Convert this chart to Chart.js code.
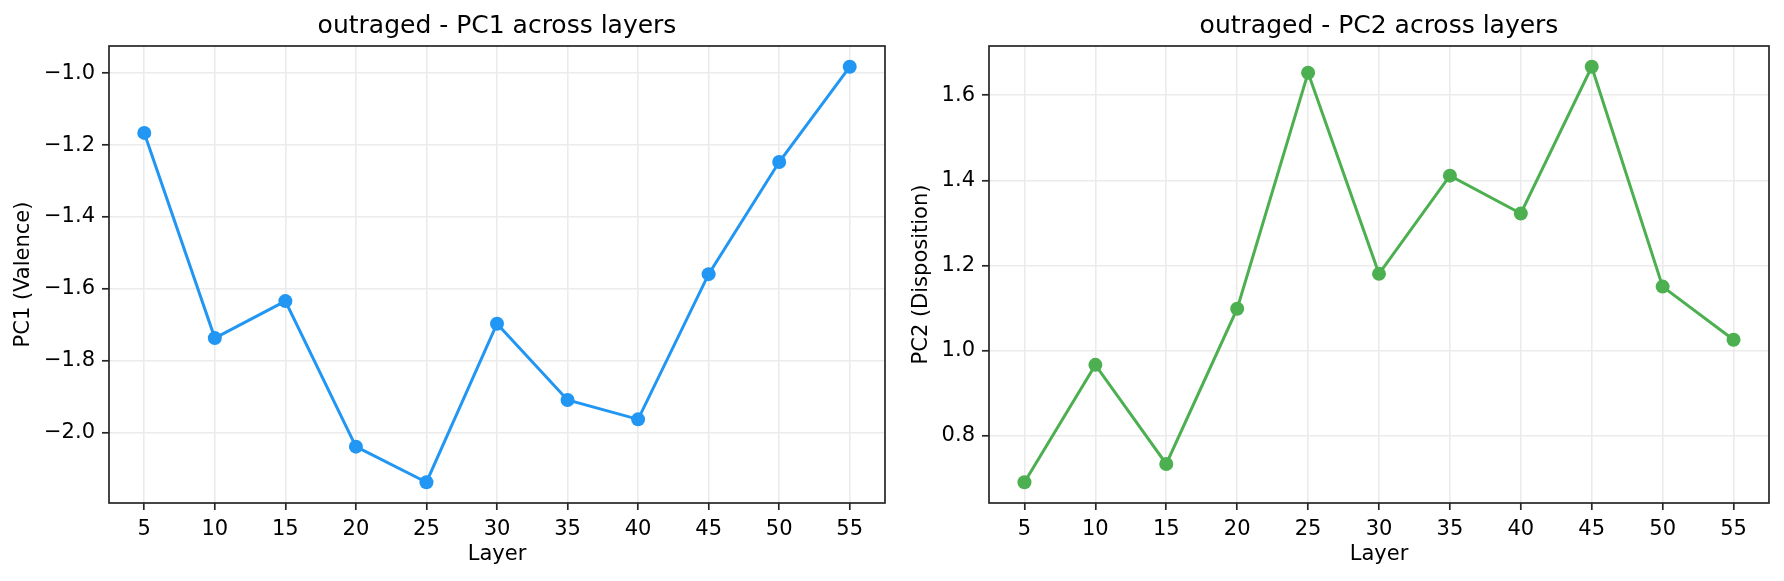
<!DOCTYPE html>
<html>
<head>
<meta charset="utf-8">
<script src="https://cdn.jsdelivr.net/npm/chart.js@4.4.1/dist/chart.umd.min.js"></script>
<style>
  html, body { margin: 0; padding: 0; background: #fff; }
  #wrap { position: relative; width: 1784px; height: 581px; }
  canvas { position: absolute; top: 0; }
</style>
</head>
<body>
<div id="wrap">
  <canvas id="pc1Chart" width="892" height="581" style="left:0"></canvas>
  <canvas id="pc2Chart" width="892" height="581" style="left:892px"></canvas>
</div>
<script>
// Datos
const emotion = 'outraged';
const layers = [5, 10, 15, 20, 25, 30, 35, 40, 45, 50, 55];
const pc1Values = [-1.166, -1.737, -1.634, -2.039, -2.138, -1.697, -1.909, -1.963, -1.559, -1.247, -0.982];
const pc2Values = [0.690, 0.966, 0.733, 1.098, 1.653, 1.180, 1.411, 1.322, 1.667, 1.150, 1.025];
const pc1Ticks = [-2.0, -1.8, -1.6, -1.4, -1.2, -1.0];
const pc2Ticks = [0.8, 1.0, 1.2, 1.4, 1.6];
const layerTicks = [5, 10, 15, 20, 25, 30, 35, 40, 45, 50, 55];

Chart.defaults.font.family = "'DejaVu Sans', sans-serif";
Chart.defaults.color = '#000';

// Márgenes como matplotlib (5% a cada lado)
const paddedRange = vals => {
  const lo = Math.min(...vals), hi = Math.max(...vals), m = (hi - lo) * 0.05;
  return [lo - m, hi + m];
};

const formatTick = v => v.toFixed(1).replace('-', '\u2212');

// Marco completo alrededor del área del gráfico
const spinePlugin = {
  id: 'spines',
  afterDatasetsDraw(chart) {
    const { ctx, chartArea: a } = chart;
    ctx.save();
    ctx.strokeStyle = '#262626';
    ctx.lineWidth = 1.7;
    ctx.strokeRect(a.left, a.top, a.right - a.left, a.bottom - a.top);
    ctx.restore();
  }
};

function buildChart(canvasId, values, yTicks, color, titleText, yLabel, opts) {
  const [yMin, yMax] = paddedRange(values);
  const [xMin, xMax] = paddedRange(layers);
  const ctx = document.getElementById(canvasId).getContext('2d');
  return new Chart(ctx, {
    type: 'line',
    data: {
      datasets: [{
        data: layers.map((l, i) => ({ x: l, y: values[i] })),
        borderColor: color,
        backgroundColor: color,
        borderWidth: 3,
        tension: 0,
        pointRadius: 7,
        pointHoverRadius: 7,
        pointBorderWidth: 0,
        pointBackgroundColor: color
      }]
    },
    options: {
      responsive: false,
      devicePixelRatio: 1,
      animation: false,
      layout: { padding: { left: 0, right: opts.padRight, top: 0, bottom: 0 } },
      plugins: {
        legend: { display: false },
        tooltip: { enabled: false },
        title: {
          display: true,
          text: titleText,
          fullSize: false,
          color: '#000',
          font: { size: 25, weight: 'normal', lineHeight: 1.2 },
          padding: { top: 11, bottom: 5 }
        }
      },
      scales: {
        x: {
          type: 'linear',
          min: xMin,
          max: xMax,
          afterBuildTicks: s => { s.ticks = layerTicks.map(v => ({ value: v })); },
          afterFit: s => { s.height = 78; },
          ticks: { font: { size: 21 }, padding: 7, maxRotation: 0, callback: v => String(v) },
          grid: { color: '#ebebeb', lineWidth: 1.6, tickColor: '#262626', tickWidth: 1.7, tickLength: 7 },
          border: { display: false },
          title: { display: true, text: 'Layer', font: { size: 21, lineHeight: 1.2 }, padding: { top: 0, bottom: 13.5 } }
        },
        y: {
          type: 'linear',
          min: yMin,
          max: yMax,
          afterBuildTicks: s => { s.ticks = yTicks.map(v => ({ value: v })); },
          afterFit: s => { s.width = opts.yWidth; },
          ticks: { font: { size: 21 }, padding: 7, callback: v => formatTick(v) },
          grid: { color: '#ebebeb', lineWidth: 1.6, tickColor: '#262626', tickWidth: 1.7, tickLength: 7 },
          border: { display: false },
          title: { display: true, text: yLabel, font: { size: 21, lineHeight: 1.2 }, padding: { top: opts.yTitlePad, bottom: 0 } }
        }
      }
    },
    plugins: [spinePlugin]
  });
}

buildChart('pc1Chart', pc1Values, pc1Ticks, '#2196F3',
  emotion + ' - PC1 across layers', 'PC1 (Valence)', { padRight: 3, yWidth: 109, yTitlePad: 11.4 });
buildChart('pc2Chart', pc2Values, pc2Ticks, '#4CAF50',
  emotion + ' - PC2 across layers', 'PC2 (Disposition)', { padRight: 15, yWidth: 97, yTitlePad: 17.4 });
</script>
</body>
</html>
